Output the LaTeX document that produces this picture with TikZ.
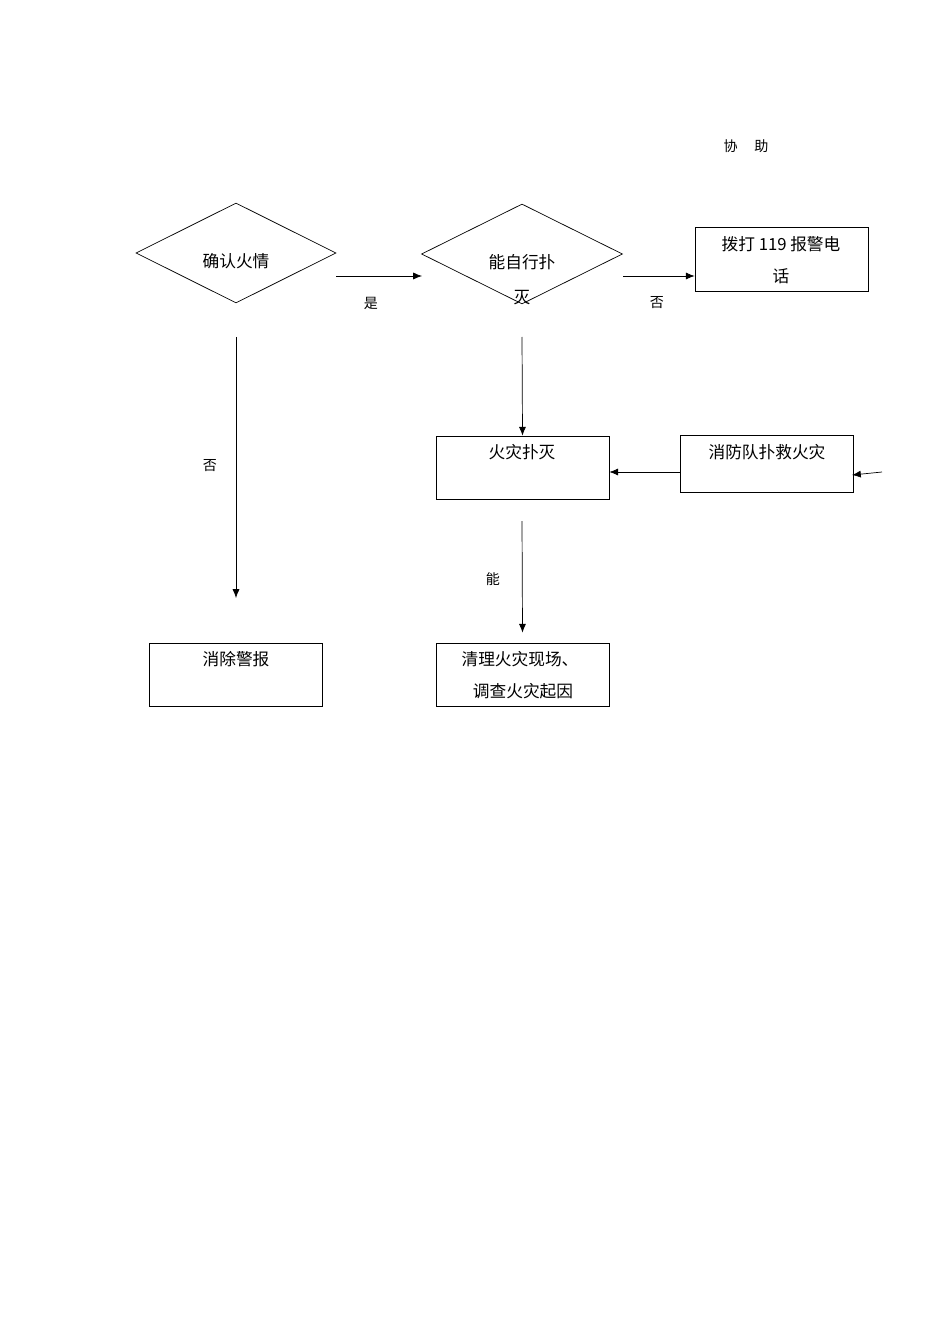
\documentclass[tikz,border=0pt]{standalone}
\usepackage{fontspec}
\setmainfont{Noto Sans CJK SC}
\usetikzlibrary{shapes.geometric,arrows.meta,calc}
\begin{document}
\begin{tikzpicture}[x=0.02cm,y=-0.02cm,
  bx/.style={draw,minimum width=3.46cm,minimum height=1.26cm,inner sep=0pt},
  txt/.style={font=\fontsize{9.5}{12}\selectfont,align=center},
  lab/.style={font=\fontsize{8}{10}\selectfont},
  arr/.style={-{Latex[length=5pt,width=4pt]}}]
\useasboundingbox (0,0) rectangle (950,1344);
\node[draw,diamond,minimum width=4cm,minimum height=2cm,inner sep=0pt,shape aspect=2] (d1) at (236,253) {};
\node[txt] at (236,261) {确认火情};
\node[draw,diamond,minimum width=4.02cm,minimum height=2cm,inner sep=0pt,shape aspect=2] (d2) at (522,254) {};
\node[txt] at (522,262) {能自行扑};
\node[txt] at (522,298) {灭};
\node[bx,minimum width=3.46cm,minimum height=1.28cm] (b119) at (781.5,259) {};
\node[txt] at (781,244) {拨打 119 报警电};
\node[txt] at (781,276) {话};
\node[lab] at (746,146) {协\hspace{1.2em}助};
\coordinate (a1s) at (336,276); \coordinate (a1e) at (422,276);
\draw[arr] (a1s) -- (a1e);
\node[lab] at (371,303) {是};
\coordinate (a2s) at (623,276);
\draw[arr] (a2s) -- (b119.west|-a2s);
\node[lab] at (657,303) {否};
\coordinate (a3s) at (236,337); \coordinate (a3e) at (236,598);
\draw[arr] (a3s) -- (a3e);
\node[lab] at (210,466) {否};
\node[bx] (bm) at (522.5,467.5) {};
\node[txt] at (522,452) {火灾扑灭};
\coordinate (a4s) at (522,337);
\draw[arr] (a4s) -- (bm.north);
\node[bx,minimum height=1.14cm] (bf) at (767,463.5) {};
\node[txt] at (767,452) {消防队扑救火灾};
\coordinate (a5s) at (680,472);
\draw[arr] (a5s) -- (bm.east|-a5s);
\coordinate (a6s) at (882,472); \coordinate (a6e) at (852,475);
\draw[arr] (a6s) -- (a6e);
\node[bx] (bx1) at (235.5,674.5) {};
\node[txt] at (236,659) {消除警报};
\node[bx] (bq) at (522.5,674.5) {};
\node[txt] at (520,659) {清理火灾现场、};
\node[txt] at (523,691) {调查火灾起因};
\coordinate (a7s) at (522,521);
\draw[arr] (a7s) -- ($(bq.north)+(0,-10)$);
\node[lab] at (493,579) {能};
\end{tikzpicture}
\end{document}
